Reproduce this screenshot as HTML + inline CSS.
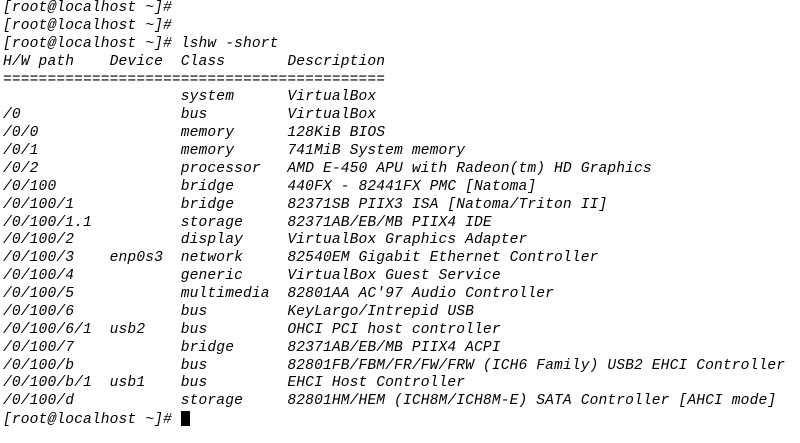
<!DOCTYPE html>
<html><head><meta charset="utf-8"><style>
html,body{margin:0;padding:0;background:#fff;width:800px;height:443px;overflow:hidden}
pre{margin:0;position:absolute;left:3px;top:0px;font-family:"Liberation Mono","DejaVu Sans Mono",monospace;font-style:italic;font-size:14.6px;line-height:17.87px;color:#000;letter-spacing:0.13px}
.cur{display:inline-block;width:9px;height:15px;background:#000;vertical-align:-3px}
</style></head><body><pre>[root@localhost ~]#
[root@localhost ~]#
[root@localhost ~]# lshw -short
H/W path    Device  Class       Description
===========================================
                    system      VirtualBox
/0                  bus         VirtualBox
/0/0                memory      128KiB BIOS
/0/1                memory      741MiB System memory
/0/2                processor   AMD E-450 APU with Radeon(tm) HD Graphics
/0/100              bridge      440FX - 82441FX PMC [Natoma]
/0/100/1            bridge      82371SB PIIX3 ISA [Natoma/Triton II]
/0/100/1.1          storage     82371AB/EB/MB PIIX4 IDE
/0/100/2            display     VirtualBox Graphics Adapter
/0/100/3    enp0s3  network     82540EM Gigabit Ethernet Controller
/0/100/4            generic     VirtualBox Guest Service
/0/100/5            multimedia  82801AA AC'97 Audio Controller
/0/100/6            bus         KeyLargo/Intrepid USB
/0/100/6/1  usb2    bus         OHCI PCI host controller
/0/100/7            bridge      82371AB/EB/MB PIIX4 ACPI
/0/100/b            bus         82801FB/FBM/FR/FW/FRW (ICH6 Family) USB2 EHCI Controller
/0/100/b/1  usb1    bus         EHCI Host Controller
/0/100/d            storage     82801HM/HEM (ICH8M/ICH8M-E) SATA Controller [AHCI mode]
[root@localhost ~]# <span class="cur"></span></pre></body></html>
